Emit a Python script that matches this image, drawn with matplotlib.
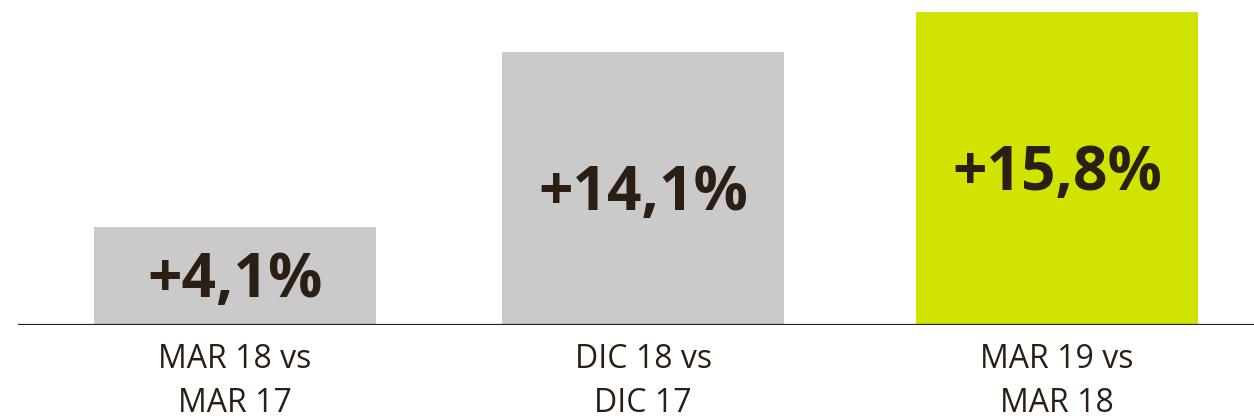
import matplotlib
matplotlib.use("Agg")
import matplotlib.pyplot as plt

# -- Data --
categories = ["MAR 18 vs\nMAR 17", "DIC 18 vs\nDIC 17", "MAR 19 vs\nMAR 18"]
value_labels = ["+4,1%", "+14,1%", "+15,8%"]
bar_heights = [5.03, 14.0, 16.05]   # as drawn in the picture

# -- Colors --
GRAY  = "#cacaca"
GREEN = "#d1e300"
TEXT  = "#2b1f14"
bar_colors = [GRAY, GRAY, GREEN]

FONT = ["Open Sans", "DejaVu Sans"]

fig = plt.figure(figsize=(12.54, 4.2), dpi=100, facecolor="white")
ax = fig.add_axes([18 / 1254, 95 / 420, 1236 / 1254, 325 / 420])
ax.set_facecolor("white")

x = [0, 0.993, 2]
ax.bar(x, bar_heights, width=0.686, color=bar_colors, zorder=2)

for xi, h, lab in zip(x, bar_heights, value_labels):
    ax.text(xi, h / 2 - 0.3, lab, ha="center", va="center",
            fontsize=43.5, fontweight="bold", color=TEXT, family=FONT)

for xi, cat in zip(x, categories):
    ax.annotate(cat, xy=(xi, 0), xycoords="data",
                xytext=(0, -13), textcoords="offset points",
                ha="center", va="top", fontsize=23, color=TEXT,
                family=FONT, linespacing=1.45)

ax.axhline(0, color=TEXT, linewidth=1.6, zorder=3)

ax.set_xlim(-0.528, 2.479)
ax.set_ylim(0, 16.67)
ax.set_xticks([])
ax.set_yticks([])
for spine in ax.spines.values():
    spine.set_visible(False)

fig.savefig("out.png", dpi=100, facecolor="white")
